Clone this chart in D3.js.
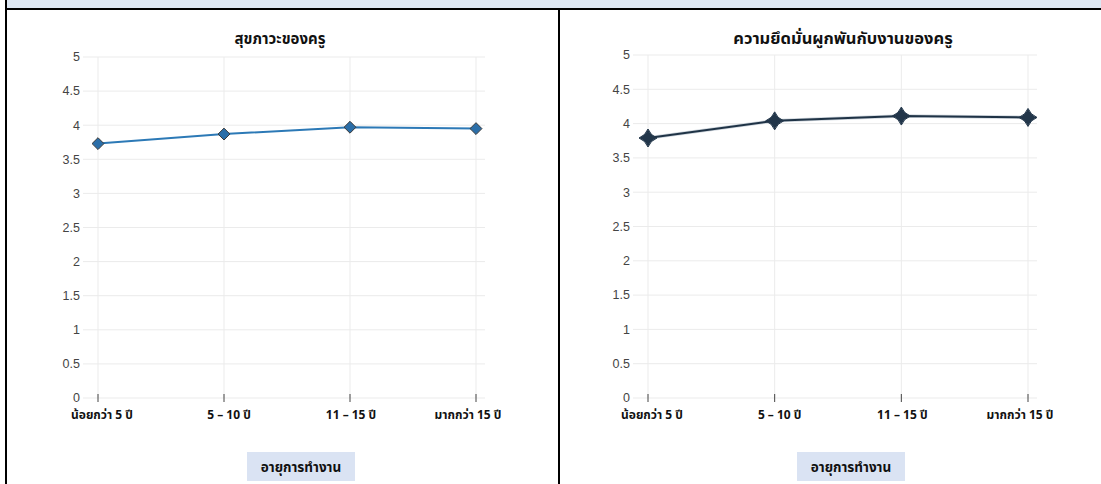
<!DOCTYPE html>
<html>
<head>
<meta charset="utf-8">
<script src="https://cdn.jsdelivr.net/npm/d3@7"></script>
<style>
  html, body { margin: 0; padding: 0; background: #fff; }
  svg { display: block; }
</style>
</head>
<body>
<svg id="chart" width="1101" height="484"></svg>
<script>
// Work-age groups shared by both panels
const categories = ["น้อยกว่า 5 ปี", "5 – 10 ปี", "11 – 15 ปี", "มากกว่า 15 ปี"];
// Mean scores per group
const wellbeing = [3.73, 3.87, 3.97, 3.95];
const engagement = [3.79, 4.04, 4.11, 4.09];
const yTicks = [0, 0.5, 1, 1.5, 2, 2.5, 3, 3.5, 4, 4.5, 5];
const panelTitles = ["สุขภาวะของครู", "ความยึดมั่นผูกพันกับงานของครู"];
const xAxisTitle = "อายุการทำงาน";

const svg = d3.select("#chart");
const thaiFont = "Tahoma, 'Noto Sans Thai', 'Leelawadee UI', 'DejaVu Sans', sans-serif";
const numFont = "Arial, 'Liberation Sans', sans-serif";
// small horizontal nudges of the category labels under their ticks
const labelShift = [4, 5, 1, -8];

// Table frame: header band and cell borders
svg.append("rect").attr("x", 6).attr("y", 0).attr("width", 1095).attr("height", 8).attr("fill", "#dde7f3");
svg.append("line").attr("x1", 5).attr("x2", 1101).attr("y1", 9).attr("y2", 9).attr("stroke", "#000").attr("stroke-width", 2);
svg.append("line").attr("x1", 6).attr("x2", 6).attr("y1", 0).attr("y2", 484).attr("stroke", "#000").attr("stroke-width", 2);
svg.append("line").attr("x1", 559).attr("x2", 559).attr("y1", 9).attr("y2", 484).attr("stroke", "#000").attr("stroke-width", 2);

// Four-pointed star marker with concave sides
function starDiamond(r) {
  const p = d3.path();
  const k = r * 0.28;
  p.moveTo(0, -r);
  p.quadraticCurveTo(k, -k, r, 0);
  p.quadraticCurveTo(k, k, 0, r);
  p.quadraticCurveTo(-k, k, -r, 0);
  p.quadraticCurveTo(-k, -k, 0, -r);
  p.closePath();
  return p.toString();
}

function panel(opts) {
  const g = svg.append("g");
  const x = d3.scalePoint().domain(categories).range([opts.x0, opts.x1]);
  const y = d3.scaleLinear().domain([0, 5]).range([opts.yBottom, opts.yTop]);
  const gridL = x(categories[0]) - 15, gridR = x(categories[categories.length - 1]) + 9;

  // horizontal grid
  g.selectAll(".hg").data(yTicks).join("line")
    .attr("x1", gridL).attr("x2", gridR)
    .attr("y1", d => y(d)).attr("y2", d => y(d))
    .attr("stroke", "#ebebeb").attr("stroke-width", 1);
  // vertical grid
  g.selectAll(".vg").data(categories).join("line")
    .attr("x1", d => x(d)).attr("x2", d => x(d))
    .attr("y1", y(5)).attr("y2", y(0))
    .attr("stroke", "#ebebeb").attr("stroke-width", 1);

  // y axis tick labels
  g.selectAll(".yl").data(yTicks).join("text")
    .attr("x", gridL - 3).attr("y", d => y(d)).attr("dy", "0.35em")
    .attr("text-anchor", "end").attr("font-family", numFont).attr("font-size", 12.5)
    .attr("fill", "#444").text(d => d);

  // x axis ticks and labels
  g.selectAll(".xt").data(categories).join("line")
    .attr("x1", d => x(d)).attr("x2", d => x(d))
    .attr("y1", y(0) - 4).attr("y2", y(0) + 4)
    .attr("stroke", "#444").attr("stroke-width", 1);
  g.selectAll(".xl").data(categories).join("text")
    .attr("x", (d, i) => x(d) + labelShift[i]).attr("y", y(0) + 21)
    .attr("text-anchor", "middle").attr("font-family", thaiFont).attr("font-size", 12)
    .attr("font-weight", "bold").attr("fill", "#111").text(d => d);

  // panel title
  g.append("text").attr("x", opts.titleX).attr("y", 44)
    .attr("text-anchor", "middle").attr("font-family", thaiFont).attr("font-size", opts.titleSize)
    .attr("font-weight", "bold").attr("fill", "#111").text(opts.title);

  // x axis title with shaded box
  const bx = opts.boxX;
  g.append("rect").attr("x", bx - 54).attr("y", 452).attr("width", 108).attr("height", 29)
    .attr("fill", "#dae3f3");
  g.append("text").attr("x", bx).attr("y", 467).attr("dy", "0.35em")
    .attr("text-anchor", "middle").attr("font-family", thaiFont).attr("font-size", 13.5)
    .attr("font-weight", "bold").attr("fill", "#111").text(xAxisTitle);

  // series line
  const line = d3.line().x((d, i) => x(categories[i])).y(d => y(d));
  if (opts.halo) {
    g.append("path").datum(opts.values).attr("d", line)
      .attr("fill", "none").attr("stroke", "#cfd6dd").attr("stroke-width", 3.5);
  }
  g.append("path").datum(opts.values).attr("d", line)
    .attr("fill", "none").attr("stroke", opts.lineColor).attr("stroke-width", 2);

  // markers
  g.selectAll(".mk").data(opts.values).join("path")
    .attr("transform", (d, i) => `translate(${x(categories[i])},${y(d)})`)
    .attr("d", opts.marker)
    .attr("fill", opts.markerFill).attr("stroke", opts.markerStroke).attr("stroke-width", 1);
}

panel({
  x0: 98, x1: 476, yTop: 57, yBottom: 398,
  values: wellbeing, title: panelTitles[0], titleX: 280, titleSize: 15, boxX: 301,
  lineColor: "#2c79b6", markerFill: "#2b6ea8", markerStroke: "#3a3a3a",
  marker: d3.symbol().type(d3.symbolDiamond2).size(90)(), halo: false
});

panel({
  x0: 648, x1: 1028, yTop: 55, yBottom: 398,
  values: engagement, title: panelTitles[1], titleX: 843, titleSize: 16.5, boxX: 851,
  lineColor: "#1f3346", markerFill: "#22364a", markerStroke: "#22364a",
  marker: starDiamond(9), halo: true
});
</script>
</body>
</html>
